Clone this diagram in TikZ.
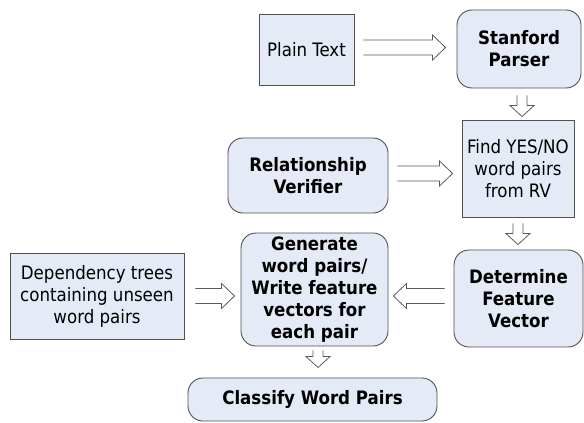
\documentclass[tikz,border=0pt]{standalone}
\usepackage{fontspec}
\setmainfont{DejaVu Sans Condensed}
\usetikzlibrary{calc}
\definecolor{boxfill}{RGB}{228,234,246}
\definecolor{boxline}{RGB}{80,80,80}
\definecolor{arrline}{RGB}{90,90,90}
\tikzset{
  base/.style={draw=boxline, line width=0.9pt, fill=boxfill, align=center, inner sep=0pt,
    font=\fontsize{18.5}{22}\selectfont},
  sqbox/.style={base},
  rbox/.style={base, rounded corners=15pt, font=\fontsize{18.5}{22}\selectfont\bfseries},
  barrow/.style={draw=arrline, line width=0.8pt, fill=white},
}
% rightwards block arrow: #1 start, #2 tip
\newcommand\rblock[2]{%
  \draw[barrow] let \p1=(#1), \p2=(#2) in
    (\x1,\y1+7.5pt) -- (\x2-13pt,\y1+7.5pt) -- (\x2-13pt,\y1+12.5pt) -- (\x2,\y1)
    -- (\x2-13pt,\y1-12.5pt) -- (\x2-13pt,\y1-7.5pt) -- (\x1,\y1-7.5pt);}
% leftwards block arrow
\newcommand\lblock[2]{%
  \draw[barrow] let \p1=(#1), \p2=(#2) in
    (\x1,\y1+7.5pt) -- (\x2+13pt,\y1+7.5pt) -- (\x2+13pt,\y1+12.5pt) -- (\x2,\y1)
    -- (\x2+13pt,\y1-12.5pt) -- (\x2+13pt,\y1-7.5pt) -- (\x1,\y1-7.5pt);}
% downward block arrow
\newcommand\vblock[2]{%
  \draw[barrow] let \p1=(#1), \p2=(#2) in
    (\x1+5pt,\y1) -- (\x1+5pt,\y2+11pt) -- (\x1+12pt,\y2+11pt) -- (\x1,\y2)
    -- (\x1-12pt,\y2+11pt) -- (\x1-5pt,\y2+11pt) -- (\x1-5pt,\y1);}
\begin{document}
\begin{tikzpicture}[x=1pt,y=-1pt]
\useasboundingbox[fill=white] (0,0) rectangle (584,423);

\node[sqbox, minimum width=95pt, minimum height=71pt] (plain) at (306.5,49.5) {Plain Text};
\node[rbox, minimum width=124pt, minimum height=78pt] (stanford) at (519,49) {Stanford\\Parser};
\node[sqbox, minimum width=112pt, minimum height=97pt] (find) at (518,168.5) {Find YES/NO\\word pairs\\from RV};
\node[rbox, minimum width=160pt, minimum height=75pt] (rv) at (308,175.5) {Relationship\\Verifier};
\node[rbox, minimum width=147pt, minimum height=113pt] (gen) at (314.5,289.5) {Generate\\word pairs/\\Write feature\\vectors for\\each pair};
\node[sqbox, minimum width=174pt, minimum height=86pt] (dep) at (97,296) {Dependency trees\\containing unseen\\word pairs};
\node[rbox, minimum width=129pt, minimum height=97pt] (det) at (518.5,298.5) {Determine\\Feature\\Vector};
\node[rbox, minimum width=249pt, minimum height=43pt] (cls) at (312.5,399.5) {Classify Word Pairs};

% connectors
\coordinate (a1) at ($(plain.east)+(9,-2)$);
\coordinate (b1) at ($(stanford.west|-a1)+(-11,0)$);
\rblock{a1}{b1}

\coordinate (a2) at ($(rv.east)+(9,-2)$);
\coordinate (b2) at ($(find.west|-a2)+(-9,0)$);
\rblock{a2}{b2}

\coordinate (a3) at ($(dep.east)+(11,0)$);
\coordinate (b3) at ($(gen.west|-a3)+(-6,0)$);
\rblock{a3}{b3}

\coordinate (a4) at ($(det.west)+(-9,-2.5)$);
\coordinate (b4) at ($(gen.east|-a4)+(5,0)$);
\lblock{a4}{b4}

\coordinate (a5) at ($(stanford.south)+(3,7)$);
\coordinate (b5) at ($(find.north)+(4,-3)$);
\vblock{a5}{b5}

\coordinate (a6) at ($(find.south)+(0,6)$);
\coordinate (b6) at ($(det.north)+(0,-5)$);
\vblock{a6}{b6}

\coordinate (a7) at ($(gen.south)+(3.5,4)$);
\coordinate (b7) at ($(cls.north)+(5,-10)$);
\vblock{a7}{b7}
\end{tikzpicture}
\end{document}
